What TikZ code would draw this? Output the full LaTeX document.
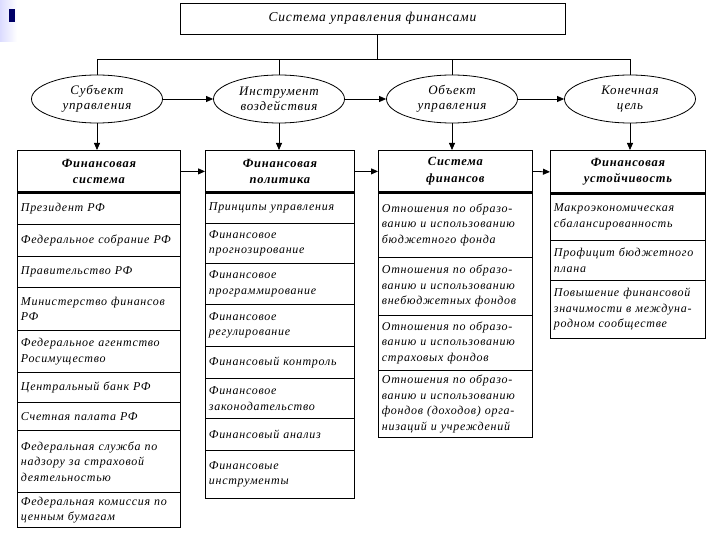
\documentclass[tikz,border=0pt]{standalone}
\usepackage{fontspec}
\setmainfont{Liberation Serif}[LetterSpace=6]
\usetikzlibrary{arrows.meta,shapes.geometric}
\tikzset{
  ln/.style={line width=0.8pt},
  cell/.style={draw, line width=0.8pt, anchor=north west, inner xsep=3pt, inner ysep=1pt,
    align=left, font=\fontsize{12}{15.5}\selectfont\itshape},
  headbox/.style={draw, line width=0.8pt, anchor=north west, inner sep=1pt,
    align=center, font=\fontsize{12.5}{16.5}\selectfont\bfseries\itshape},
  oval/.style={ellipse, draw, line width=0.8pt, minimum width=131pt, minimum height=48pt,
    inner sep=0pt, align=center, font=\fontsize{13}{15.5}\selectfont\itshape},
  arr/.style={-{Triangle[length=7pt,width=6pt]}, line width=0.8pt},
  thickrule/.style={line width=3pt},
}
\newcommand\cellnode[6]{%
  \pgfmathsetmacro\cw{#5-#2}\pgfmathsetmacro\ch{#4-#3}\pgfmathsetmacro\tw{#5-#2-7}%
  \node[cell, minimum width=\cw pt, minimum height=\ch pt, text width=\tw pt] (#1) at (#2,#3) {#6};}
\newcommand\headnode[6]{%
  \pgfmathsetmacro\cw{#5-#2}\pgfmathsetmacro\ch{#4-#3}%
  \node[headbox, minimum width=\cw pt, minimum height=\ch pt] (#1) at (#2,#3) {#6};
  \draw[thickrule] (#1.south west) -- (#1.south east);}
\begin{document}
\begin{tikzpicture}[x=1pt,y=-1pt]
\useasboundingbox (0,0) rectangle (720,540);
% slide decoration
\fill[left color=blue!14, right color=white] (0,0) rectangle (17,42);
\fill[blue!40!black] (9,9) rectangle (15,22);

% top
\node[draw, ln, minimum width=385pt, minimum height=31pt, font=\fontsize{13.5}{15}\selectfont\itshape] (top) at (372.5,18.5) {Система управления финансами};

% ellipses
\node[oval] (e1) at (97,99) {Субъект\\управления};
\node[oval] (e2) at (279,99) {Инструмент\\воздействия};
\node[oval] (e3) at (452,99) {Объект\\управления};
\node[oval] (e4) at (630,99) {Конечная\\цель};

\coordinate (bus) at (377,59);
\draw[ln] ([xshift=4.5pt]top.south) -- (bus);
\draw[ln] (e1.north) -- (e1.north |- bus) -- (e4.north |- bus) -- (e4.north);
\draw[ln] (e2.north) -- (e2.north |- bus);
\draw[ln] (e3.north) -- (e3.north |- bus);

\draw[arr] (e1.east) -- (e2.west);
\draw[arr] (e2.east) -- (e3.west);
\draw[arr] (e3.east) -- (e4.west);

% column 1
\headnode{h1}{17}{150}{192}{180}{Финансовая\\система}
\cellnode{a1}{17}{192}{224}{180}{Президент РФ}
\cellnode{a2}{17}{224}{256}{180}{Федеральное собрание РФ}
\cellnode{a3}{17}{256}{287}{180}{Правительство РФ}
\cellnode{a4}{17}{287}{330}{180}{Министерство финансов\\РФ}
\cellnode{a5}{17}{330}{372}{180}{Федеральное агентство\\Росимущество}
\cellnode{a6}{17}{372}{402}{180}{Центральный банк РФ}
\cellnode{a7}{17}{402}{430}{180}{Счетная палата РФ}
\cellnode{a8}{17}{430}{492}{180}{Федеральная служба по\\надзору за страховой\\деятельностью}
\cellnode{a9}{17}{492}{527}{180}{Федеральная комиссия по\\ценным бумагам}

% column 2
\headnode{h2}{205}{150}{192}{354}{Финансовая\\политика}
\cellnode{b1}{205}{192}{223}{354}{Принципы управления}
\cellnode{b2}{205}{223}{263}{354}{Финансовое\\прогнозирование}
\cellnode{b3}{205}{263}{304}{354}{Финансовое\\программирование}
\cellnode{b4}{205}{304}{346}{354}{Финансовое\\регулирование}
\cellnode{b5}{205}{346}{378}{354}{Финансовый контроль}
\cellnode{b6}{205}{378}{418}{354}{Финансовое\\законодательство}
\cellnode{b7}{205}{418}{450}{354}{Финансовый анализ}
\cellnode{b8}{205}{450}{498}{354}{Финансовые\\инструменты}

% column 3
\headnode{h3}{378}{150}{192}{532}{Система\\финансов}
\cellnode{c1}{378}{192}{257}{532}{Отношения по образо-\\ванию и использованию\\бюджетного фонда}
\cellnode{c2}{378}{257}{315}{532}{Отношения по образо-\\ванию и использованию\\внебюджетных фондов}
\cellnode{c3}{378}{315}{370}{532}{Отношения по образо-\\ванию и использованию\\страховых фондов}
\cellnode{c4}{378}{370}{437}{532}{Отношения по образо-\\ванию и использованию\\фондов (доходов) орга-\\низаций и учреждений}

% column 4
\headnode{h4}{550}{150}{193}{705}{Финансовая\\устойчивость}
\cellnode{d1}{550}{193}{240}{705}{Макроэкономическая\\сбалансированность}
\cellnode{d2}{550}{240}{280}{705}{Профицит бюджетного\\плана}
\cellnode{d3}{550}{280}{338}{705}{Повышение финансовой\\значимости в междуна-\\родном сообществе}

% ellipse to boxes
\draw[arr] (e1.south) -- (e1.south |- h1.north);
\draw[arr] (e2.south) -- (e2.south |- h2.north);
\draw[arr] (e3.south) -- (e3.south |- h3.north);
\draw[arr] (e4.south) -- (e4.south |- h4.north);

% between boxes
\draw[arr] (h1.east) -- (h2.west);
\draw[arr] (h2.east) -- (h3.west);
\draw[arr] (h3.east) -- (h4.west);
\end{tikzpicture}
\end{document}
